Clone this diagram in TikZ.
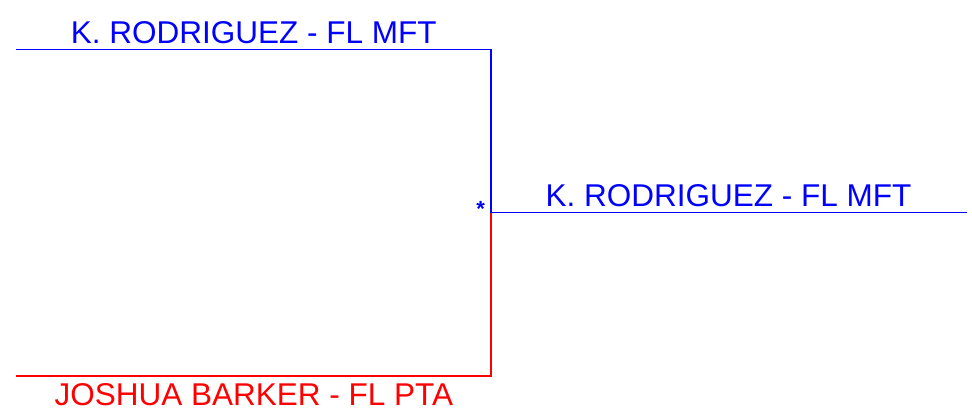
\documentclass[tikz,border=0pt]{standalone}
\usepackage{fontspec}
\setmainfont{Liberation Sans}
\definecolor{pblue}{RGB}{0,0,255}
\definecolor{pred}{RGB}{255,0,0}
\begin{document}
\begin{tikzpicture}[x=1pt,y=-1pt,
  namelabel/.style={anchor=base,inner sep=0pt,font=\fontsize{31.5}{34}\selectfont},
  link/.style={line width=1.2pt}]
\useasboundingbox (0,0) rectangle (972,417);
% coordinates
\coordinate (fL) at (16,49.5);
\coordinate (fR) at (491,49.5);
\coordinate (j) at (491,212.7);
\coordinate (cR) at (966.5,212.7);
\coordinate (mL) at (16,376);
\coordinate (mR) at (491,376);
% labels
\node[namelabel,text=pblue] (father) at (253.8,43.3) {K. RODRIGUEZ - FL MFT};
\node[namelabel,text=pblue] (child) at (728.5,206) {K. RODRIGUEZ - FL MFT};
\node[namelabel,text=pred] (mother) at (253.8,405) {JOSHUA BARKER - FL PTA};
\node[inner sep=0pt,text=pblue,font=\fontsize{22}{22}\selectfont\bfseries] (star) at (480.7,209) {*};
% connectors
\draw[link,pblue] (fL) -- (fR) -- (j);
\draw[link,pblue] (j) -- (cR);
\draw[link,pred] (j) -- (mR) -- (mL);
\end{tikzpicture}
\end{document}
